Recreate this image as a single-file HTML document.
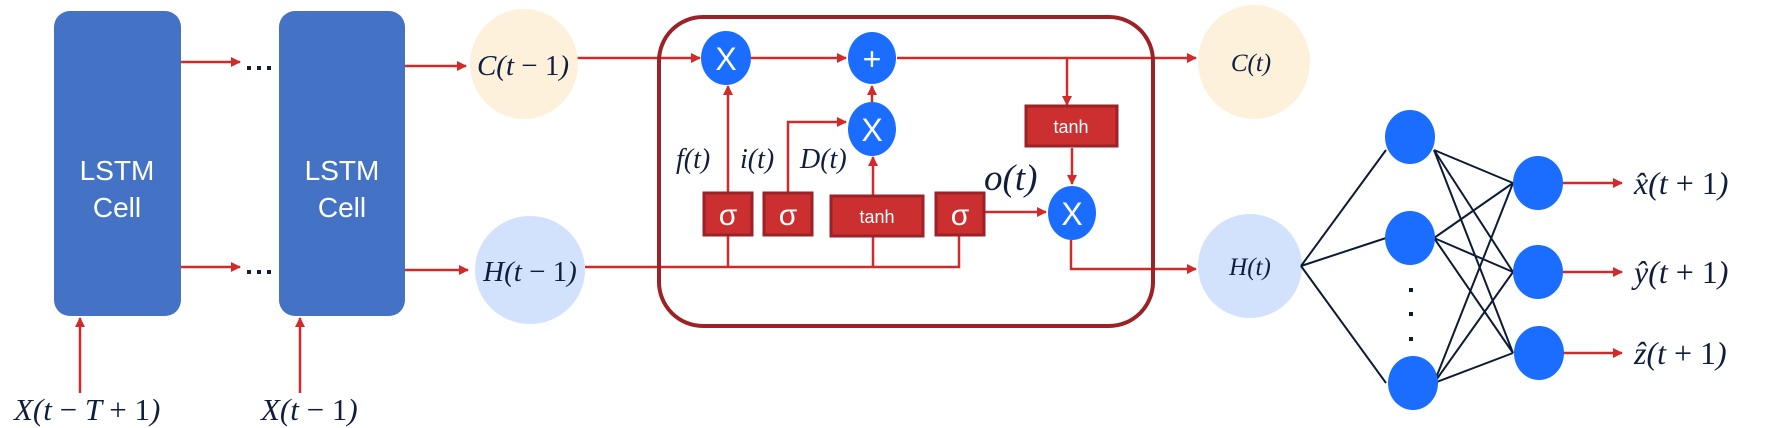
<!DOCTYPE html>
<html><head><meta charset="utf-8"><style>
html,body{margin:0;padding:0;background:#fff;}
svg{display:block;}
.m{font-family:"Liberation Serif",serif;font-style:italic;fill:#0f1e3d;}
.m tspan.u{font-style:normal;}
.w{font-family:"Liberation Sans",sans-serif;fill:#fff;}
</style></head><body>
<svg width="1773" height="428" viewBox="0 0 1773 428" xmlns="http://www.w3.org/2000/svg">
<defs>
<marker id="ah" markerWidth="10" markerHeight="10" refX="9" refY="5" orient="auto" markerUnits="userSpaceOnUse" viewBox="0 0 10 10"><path d="M0,0 L10,5 L0,10 z" fill="#d12a2a"/></marker>
</defs>
<g stroke="#d12a2a" stroke-width="2.5" fill="none" marker-end="url(#ah)">
<line x1="181" y1="62" x2="240" y2="62"/>
<line x1="181" y1="267" x2="240" y2="267"/>
<line x1="405" y1="66" x2="466" y2="66"/>
<line x1="405" y1="270" x2="468" y2="270"/>
<line x1="80" y1="393" x2="80" y2="318"/>
<line x1="300" y1="393" x2="300" y2="318"/>
<line x1="570" y1="58" x2="700" y2="58"/>
<line x1="751" y1="58" x2="846" y2="58"/>
<line x1="897" y1="58" x2="1196" y2="58"/>
<line x1="728" y1="267" x2="728" y2="86"/>
<polyline points="788,193 788,122 846,122"/>
<line x1="873" y1="267" x2="873" y2="157"/>
<line x1="872" y1="103" x2="872" y2="86"/>
<line x1="1067" y1="58" x2="1067" y2="105"/>
<line x1="1072" y1="148" x2="1072" y2="184"/>
<polyline points="985,212 1046,212"/>
<polyline points="1071,240 1071,269 1196,269"/>
<line x1="1563" y1="183" x2="1622" y2="183"/>
<line x1="1563" y1="272" x2="1622" y2="272"/>
<line x1="1563" y1="353" x2="1622" y2="353"/>
</g>
<g stroke="#d12a2a" stroke-width="2.5" fill="none">
<polyline points="585,267 959,267 959,235"/>
</g>
<rect x="54" y="11" width="127" height="305" rx="16" fill="#4472c4"/>
<rect x="279" y="11" width="126" height="305" rx="16" fill="#4472c4"/>
<text class="w" x="117" y="180" font-size="28" text-anchor="middle">LSTM</text>
<text class="w" x="117" y="217" font-size="28" text-anchor="middle">Cell</text>
<text class="w" x="342" y="180" font-size="28" text-anchor="middle">LSTM</text>
<text class="w" x="342" y="217" font-size="28" text-anchor="middle">Cell</text>
<g fill="#0f1e3d">
<rect x="247" y="66" width="4" height="4"/><rect x="257" y="66" width="4" height="4"/><rect x="267" y="66" width="4" height="4"/>
<rect x="247" y="309" width="0" height="0"/>
<rect x="247" y="270" width="4" height="4"/><rect x="257" y="270" width="4" height="4"/><rect x="267" y="270" width="4" height="4"/>
</g>
<ellipse cx="524" cy="64" rx="54" ry="55" fill="#fdf1dc"/>
<ellipse cx="530" cy="270" rx="55" ry="54" fill="#d2e1fc"/>
<text class="m" x="523" y="75" font-size="29" text-anchor="middle">C(t <tspan class="u">− 1</tspan>)</text>
<text class="m" x="530" y="281" font-size="29" text-anchor="middle">H(t <tspan class="u">− 1</tspan>)</text>
<ellipse cx="1254" cy="62" rx="56" ry="57" fill="#fdf1dc"/>
<ellipse cx="1250" cy="266" rx="52" ry="52" fill="#d2e1fc"/>
<text class="m" x="1251" y="71" font-size="25" text-anchor="middle">C(t)</text>
<text class="m" x="1250" y="275" font-size="25" text-anchor="middle">H(t)</text>
<text class="m" x="14" y="420" font-size="31">X(t <tspan class="u">−</tspan> T <tspan class="u">+ 1</tspan>)</text>
<text class="m" x="261" y="420" font-size="31">X(t <tspan class="u">− 1</tspan>)</text>
<rect x="659" y="17" width="494" height="309" rx="44" fill="none" stroke="#9b2226" stroke-width="4"/>
<g fill="#1a6dff">
<ellipse cx="726" cy="58" rx="25" ry="27"/>
<ellipse cx="872" cy="58" rx="24" ry="26"/>
<ellipse cx="872" cy="129" rx="24" ry="27"/>
<ellipse cx="1072" cy="213" rx="24" ry="27"/>
</g>
<text class="w" x="726" y="70" font-size="32" text-anchor="middle">X</text>
<text class="w" x="872" y="70" font-size="32" text-anchor="middle">+</text>
<text class="w" x="872" y="141" font-size="32" text-anchor="middle">X</text>
<text class="w" x="1072" y="225" font-size="32" text-anchor="middle">X</text>
<g fill="#cc2f2f" stroke="#9b2226" stroke-width="3">
<rect x="704" y="193" width="48" height="42"/>
<rect x="764" y="193" width="48" height="42"/>
<rect x="831" y="196" width="92" height="40"/>
<rect x="936" y="193" width="48" height="42"/>
<rect x="1026" y="106" width="91" height="40"/>
</g>
<text class="w" x="728" y="225" font-size="30" text-anchor="middle">σ</text>
<text class="w" x="788" y="225" font-size="30" text-anchor="middle">σ</text>
<text class="w" x="877" y="223" font-size="18" text-anchor="middle">tanh</text>
<text class="w" x="960" y="225" font-size="30" text-anchor="middle">σ</text>
<text class="w" x="1071" y="133" font-size="18" text-anchor="middle">tanh</text>
<text class="m" x="676" y="168" font-size="28">f(t)</text>
<text class="m" x="740" y="168" font-size="28">i(t)</text>
<text class="m" x="800" y="168" font-size="28">D(t)</text>
<text class="m" x="984" y="190" font-size="37">o(t)</text>
<g stroke="#0d1b33" stroke-width="2">
<line x1="1301" y1="266" x2="1386" y2="150"/>
<line x1="1301" y1="266" x2="1386" y2="238"/>
<line x1="1301" y1="266" x2="1386" y2="383"/>
<line x1="1434" y1="150" x2="1513" y2="183"/><line x1="1434" y1="150" x2="1513" y2="272"/><line x1="1434" y1="150" x2="1513" y2="353"/>
<line x1="1434" y1="238" x2="1513" y2="183"/><line x1="1434" y1="238" x2="1513" y2="272"/><line x1="1434" y1="238" x2="1513" y2="353"/>
<line x1="1434" y1="383" x2="1513" y2="183"/><line x1="1434" y1="383" x2="1513" y2="272"/><line x1="1434" y1="383" x2="1513" y2="353"/>
</g>
<g fill="#1a6dff">
<ellipse cx="1410" cy="137" rx="25" ry="27"/>
<ellipse cx="1410" cy="238" rx="25" ry="27"/>
<ellipse cx="1413" cy="383" rx="25" ry="27"/>
<ellipse cx="1538" cy="183" rx="25" ry="27"/>
<ellipse cx="1538" cy="272" rx="25" ry="27"/>
<ellipse cx="1539" cy="353" rx="25" ry="27"/>
</g>
<g fill="#0d1b33"><rect x="1409" y="288" width="4" height="4"/><rect x="1409" y="312" width="4" height="4"/><rect x="1409" y="337" width="4" height="4"/></g>
<text class="m" x="1634" y="194" font-size="32">x̂(t <tspan class="u">+ 1</tspan>)</text>
<text class="m" x="1634" y="283" font-size="32">ŷ(t <tspan class="u">+ 1</tspan>)</text>
<text class="m" x="1634" y="364" font-size="32">ẑ(t <tspan class="u">+ 1</tspan>)</text>
</svg>
</body></html>
